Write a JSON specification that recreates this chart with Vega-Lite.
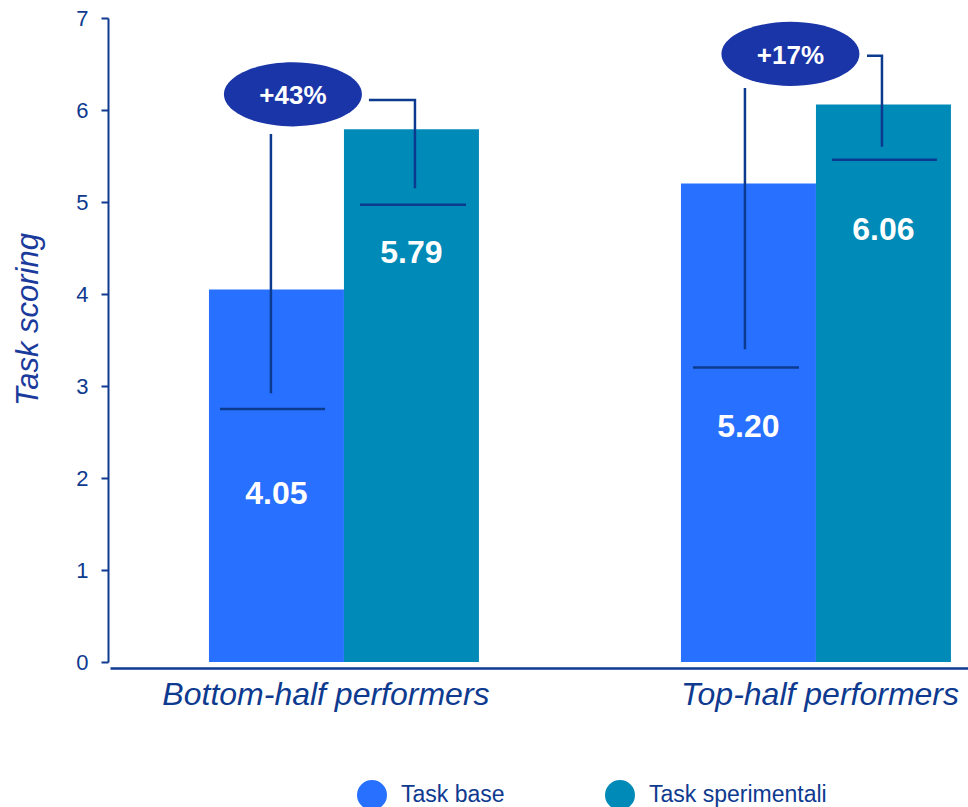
{
  "$schema": "https://vega.github.io/schema/vega-lite/v6.json",
  "autosize": {"type": "none"},
  "width": 858,
  "height": 644,
  "padding": {"left": 110, "top": 18, "right": 0, "bottom": 145},
  "background": "white",
  "config": {
    "font": "Liberation Sans",
    "view": {"stroke": null},
    "axisX": {
      "title": null,
      "domainColor": "#0E3A8F",
      "domainWidth": 2.5,
      "offset": 6,
      "ticks": false,
      "labelFontSize": 32,
      "labelFontStyle": "italic",
      "labelColor": "#0E3A8F",
      "labelPadding": 11,
      "labelAngle": 0,
      "labelLimit": 0,
      "labelOverlap": false,
      "grid": false
    },
    "axisY": {
      "domainColor": "#0E3A8F",
      "domainWidth": 2,
      "tickColor": "#0E3A8F",
      "tickWidth": 2,
      "tickSize": 7,
      "offset": 2,
      "labelFontSize": 22,
      "labelColor": "#0E3A8F",
      "labelPadding": 13,
      "grid": false,
      "titleFontSize": 31,
      "titleFontStyle": "italic",
      "titleFontWeight": "normal",
      "titleColor": "#1A3A9C",
      "titleX": -80,
      "titleY": 301,
      "titleAngle": 270,
      "titleAlign": "center",
      "titleBaseline": "middle"
    },
    "legend": {
      "orient": "none",
      "legendX": 247,
      "legendY": 762,
      "direction": "horizontal",
      "symbolType": "circle",
      "symbolSize": 900,
      "symbolStrokeWidth": 0,
      "labelFontSize": 23,
      "labelColor": "#0E3A8F",
      "labelOffset": 14,
      "labelLimit": 0,
      "columnPadding": 100,
      "padding": 0,
      "title": null
    }
  },
  "resolve": {"scale": {"xOffset": "independent"}},
  "layer": [
    {
      "data": {
        "values": [
          {"group": "Bottom-half performers", "series": "Task base", "value": 4.05},
          {"group": "Bottom-half performers", "series": "Task sperimentali", "value": 5.79},
          {"group": "Top-half performers", "series": "Task base", "value": 5.20},
          {"group": "Top-half performers", "series": "Task sperimentali", "value": 6.06}
        ]
      },
      "mark": {"type": "bar"},
      "encoding": {
        "x": {
          "field": "group", "type": "nominal", "sort": null,
          "scale": {"paddingInner": 0.428, "paddingOuter": 0.1229, "align": 0.853},
          "axis": {
            "labelOffset": {"condition": {"test": "datum.value === 'Bottom-half performers'", "value": -18}, "value": 4}
          }
        },
        "xOffset": {
          "field": "series", "type": "nominal",
          "scale": {"paddingInner": 0, "paddingOuter": 0}
        },
        "y": {
          "field": "value", "type": "quantitative",
          "scale": {"domain": [0, 7], "nice": false},
          "axis": {"values": [0, 1, 2, 3, 4, 5, 6, 7], "format": "d", "title": "Task scoring"}
        },
        "color": {
          "field": "series", "type": "nominal",
          "scale": {"domain": ["Task base", "Task sperimentali"], "range": ["#2870FF", "#008AB8"]}
        }
      }
    },
    {
      "data": {
        "values": [
          {"group": "Bottom-half performers", "seg": "b1", "ord": 1, "pos": -0.918, "y": 2.75},
          {"group": "Bottom-half performers", "seg": "b1", "ord": 2, "pos": -0.14, "y": 2.75},
          {"group": "Bottom-half performers", "seg": "b2", "ord": 1, "pos": -0.541, "y": 2.92},
          {"group": "Bottom-half performers", "seg": "b2", "ord": 2, "pos": -0.541, "y": 5.74},
          {"group": "Bottom-half performers", "seg": "b3", "ord": 1, "pos": 0.185, "y": 6.11},
          {"group": "Bottom-half performers", "seg": "b3", "ord": 2, "pos": 0.526, "y": 6.11},
          {"group": "Bottom-half performers", "seg": "b3", "ord": 3, "pos": 0.526, "y": 5.15},
          {"group": "Bottom-half performers", "seg": "b4", "ord": 1, "pos": 0.119, "y": 4.97},
          {"group": "Bottom-half performers", "seg": "b4", "ord": 2, "pos": 0.904, "y": 4.97},
          {"group": "Top-half performers", "seg": "t1", "ord": 1, "pos": -0.911, "y": 3.20},
          {"group": "Top-half performers", "seg": "t1", "ord": 2, "pos": -0.126, "y": 3.20},
          {"group": "Top-half performers", "seg": "t2", "ord": 1, "pos": -0.526, "y": 3.40},
          {"group": "Top-half performers", "seg": "t2", "ord": 2, "pos": -0.526, "y": 6.24},
          {"group": "Top-half performers", "seg": "t3", "ord": 1, "pos": 0.378, "y": 6.59},
          {"group": "Top-half performers", "seg": "t3", "ord": 2, "pos": 0.489, "y": 6.59},
          {"group": "Top-half performers", "seg": "t3", "ord": 3, "pos": 0.489, "y": 5.60},
          {"group": "Top-half performers", "seg": "t4", "ord": 1, "pos": 0.119, "y": 5.46},
          {"group": "Top-half performers", "seg": "t4", "ord": 2, "pos": 0.896, "y": 5.46}
        ]
      },
      "mark": {"type": "line", "color": "#0B3A8F", "strokeWidth": 2.5, "strokeCap": "butt"},
      "encoding": {
        "x": {"field": "group", "type": "nominal", "sort": null},
        "xOffset": {"field": "pos", "type": "quantitative", "scale": {"domain": [-1, 1], "nice": false, "zero": false}},
        "y": {"field": "y", "type": "quantitative"},
        "detail": {"field": "seg"},
        "order": {"field": "ord", "type": "quantitative"}
      }
    },
    {
      "data": {
        "values": [
          {"group": "Bottom-half performers", "pos": -0.378, "y": 6.17, "label": "+43%"},
          {"group": "Top-half performers", "pos": -0.189, "y": 6.61, "label": "+17%"}
        ]
      },
      "layer": [
        {
          "mark": {
            "type": "point", "filled": true, "opacity": 1, "color": "#1A35A8", "size": 19044,
            "shape": "M-1,0C-1,-0.256,-0.552,-0.464,0,-0.464C0.552,-0.464,1,-0.256,1,0C1,0.256,0.552,0.464,0,0.464C-0.552,0.464,-1,0.256,-1,0Z"
          },
          "encoding": {
            "x": {"field": "group", "type": "nominal", "sort": null},
            "xOffset": {"field": "pos", "type": "quantitative", "scale": {"domain": [-1, 1], "nice": false, "zero": false}},
            "y": {"field": "y", "type": "quantitative"}
          }
        },
        {
          "mark": {"type": "text", "color": "white", "fontSize": 26, "fontWeight": "bold", "baseline": "middle", "align": "center", "dy": 2},
          "encoding": {
            "x": {"field": "group", "type": "nominal", "sort": null},
            "xOffset": {"field": "pos", "type": "quantitative", "scale": {"domain": [-1, 1], "nice": false, "zero": false}},
            "y": {"field": "y", "type": "quantitative"},
            "text": {"field": "label"}
          }
        }
      ]
    },
    {
      "data": {
        "values": [
          {"group": "Bottom-half performers", "pos": -0.5, "y": 1.83, "label": "4.05"},
          {"group": "Bottom-half performers", "pos": 0.5, "y": 4.45, "label": "5.79"},
          {"group": "Top-half performers", "pos": -0.5, "y": 2.55, "label": "5.20"},
          {"group": "Top-half performers", "pos": 0.5, "y": 4.70, "label": "6.06"}
        ]
      },
      "mark": {"type": "text", "color": "white", "fontSize": 32, "fontWeight": "bold", "baseline": "middle", "align": "center"},
      "encoding": {
        "x": {"field": "group", "type": "nominal", "sort": null},
        "xOffset": {"field": "pos", "type": "quantitative", "scale": {"domain": [-1, 1], "nice": false, "zero": false}},
        "y": {"field": "y", "type": "quantitative"},
        "text": {"field": "label"}
      }
    }
  ]
}
